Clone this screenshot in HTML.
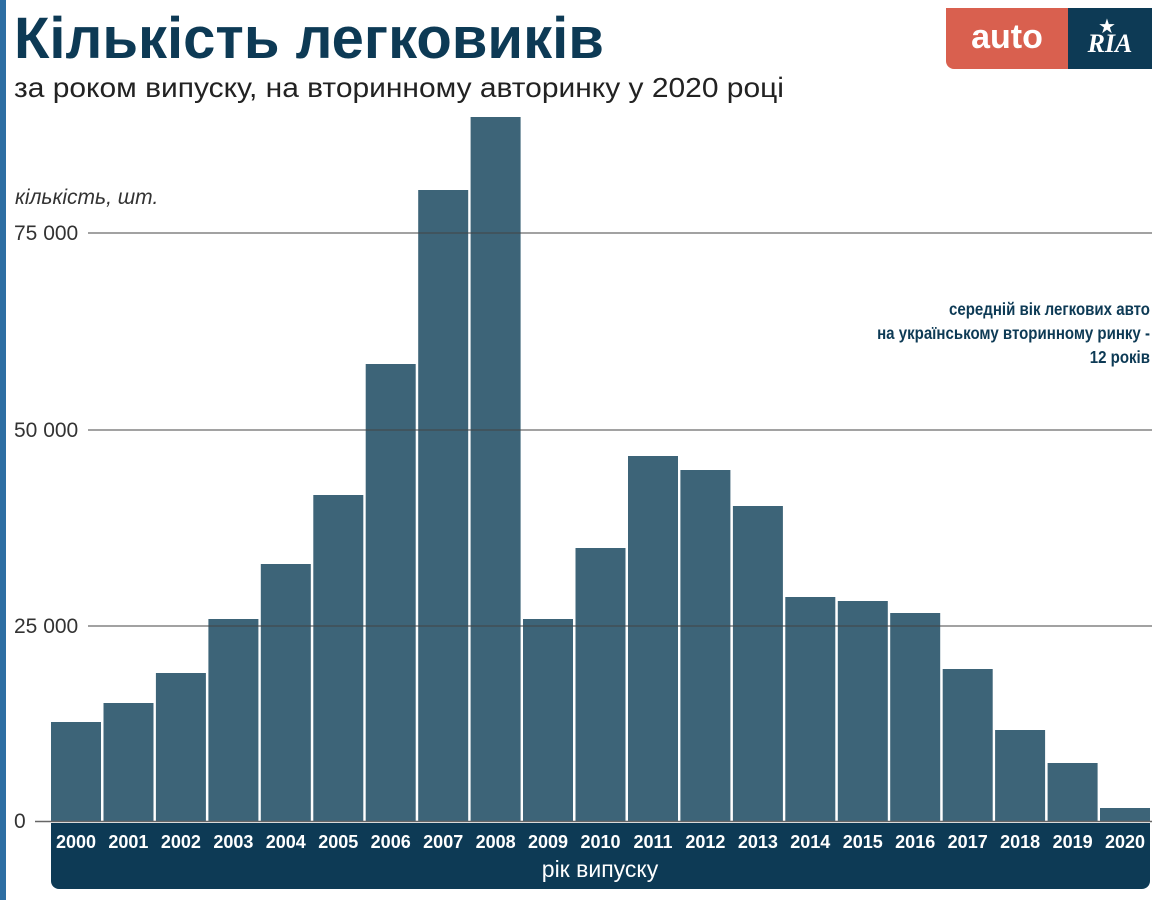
<!DOCTYPE html>
<html><head><meta charset="utf-8"><style>
body{margin:0;width:1162px;height:900px;background:#fff;position:relative;overflow:hidden;font-family:"Liberation Sans","DejaVu Sans",sans-serif}
.a{position:absolute}
</style></head><body>
<div class="a" style="left:0;top:0;width:6px;height:900px;background:#2d6ea3"></div>
<div class="a" style="left:14px;top:5px;font-size:58px;font-weight:bold;color:#0d3a55;transform:scaleX(1.0);transform-origin:left top;white-space:nowrap">Кількість легковиків</div>
<div class="a" style="left:14px;top:72px;font-size:28px;color:#222;transform:scaleX(1.07);transform-origin:left top;white-space:nowrap">за роком випуску, на вторинному авторинку у 2020 році</div>
<div class="a" style="left:946px;top:8px;width:122px;height:61px;background:#d9604f;border-radius:0 0 0 8px;color:#fff;font-size:34px;font-weight:bold;text-align:center;line-height:58px">auto</div>
<div class="a" style="left:1068px;top:8px;width:84px;height:61px;background:#0d3a55;color:#fff;font-size:26px;font-weight:bold;font-style:italic;font-family:'Liberation Serif',serif;text-align:center;line-height:72px">RIA</div>
<div class="a" style="left:1098px;top:14px;color:#fff;font-size:20px">★</div>
<div class="a" style="left:15px;top:186px;font-size:21px;font-style:italic;color:#333">кількість, шт.</div>
<svg class="a" style="left:0;top:0" width="1162" height="900">
<g font-size="21" fill="#333" font-family="Liberation Sans,sans-serif">
<text x="14" y="240">75 000</text><text x="14" y="437">50 000</text><text x="14" y="633">25 000</text><text x="14" y="828">0</text>
</g>
<g id="b" fill="#3d6478"></g>
<g stroke="#444" stroke-width="1"><line x1="88" y1="233" x2="1152" y2="233"/><line x1="88" y1="430" x2="1152" y2="430"/><line x1="88" y1="626" x2="1152" y2="626"/></g>
<line x1="35" y1="821.5" x2="1152" y2="821.5" stroke="#666" stroke-width="1.5"/>
<path d="M51 823H1150V881a8 8 0 0 1-8 8H59a8 8 0 0 1-8-8Z" fill="#0d3a55"/>
<g id="l" fill="#fff" font-size="18" font-weight="bold" text-anchor="middle" font-family="Liberation Sans,sans-serif"></g>
<text x="600" y="877" fill="#fff" font-size="23" text-anchor="middle" font-family="Liberation Sans,sans-serif">рік випуску</text>
<g font-size="17.5" font-weight="bold" fill="#0d3a55" text-anchor="end" font-family="Liberation Sans,sans-serif" transform="translate(1150 0) scale(0.86 1) translate(-1150 0)"><text x="1150" y="315">середній вік легкових авто</text><text x="1150" y="339">на українському вторинному ринку -</text><text x="1150" y="363">12 років</text></g>
</svg>
<script>
var t=[722,703,673,619,564,495,364,190,117,619,548,456,470,506,597,601,613,669,730,763,808];
var b='',l='';
for(var i=0;i<21;i++){var x=51+i*52.45;b+='<rect x="'+x.toFixed(1)+'" y="'+t[i]+'" width="50" height="'+(821-t[i])+'"/>';l+='<text x="'+(x+25).toFixed(1)+'" y="848">'+(2000+i)+'</text>';}
document.getElementById('b').innerHTML=b;document.getElementById('l').innerHTML=l;
</script>
</body></html>
